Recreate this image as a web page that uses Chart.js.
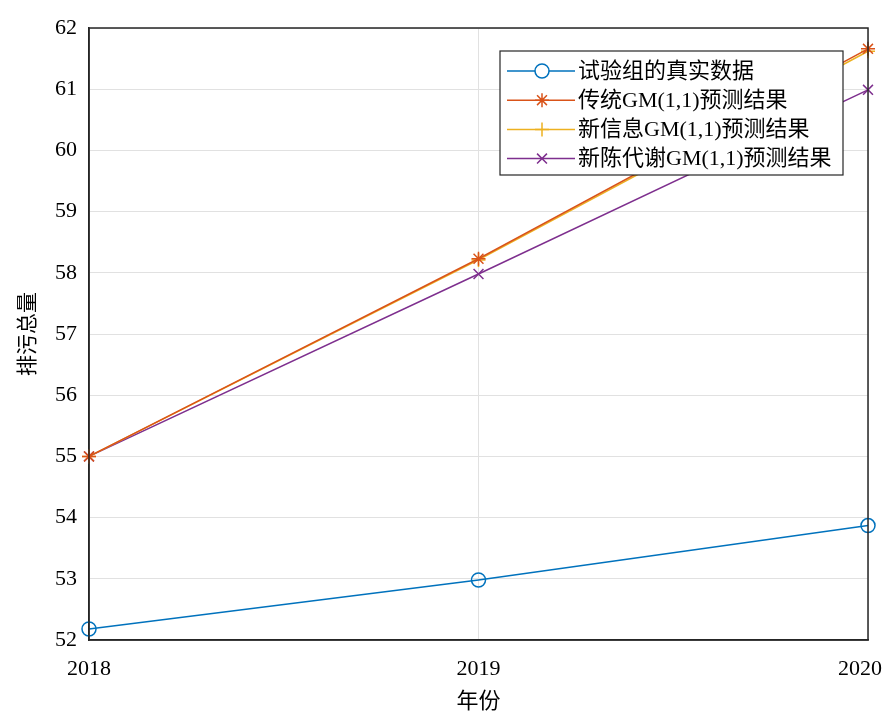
<!DOCTYPE html>
<html>
<head>
<meta charset="utf-8">
<script src="https://cdn.jsdelivr.net/npm/chart.js@4"></script>
<style>
  body { margin: 0; background: #fff; }
  #wrap { width: 886px; height: 715px; }
</style>
</head>
<body>
<div id="wrap"><canvas id="gmChart" width="886" height="715"></canvas></div>
<script>
const years = [2018, 2019, 2020];
const realData = [52.18, 52.98, 53.87];
const gmData = [55.0, 58.23, 61.66];
const newInfoData = [55.0, 58.21, 61.62];
const metabolismData = [55.0, 57.98, 60.99];
const yTicks = [52, 53, 54, 55, 56, 57, 58, 59, 60, 61, 62];

const fontFam = '"Liberation Serif", "Times New Roman", "Noto Sans CJK SC", serif';

function toPoints(vals) {
  return vals.map((v, i) => ({ x: years[i], y: v }));
}

// box around plot, x labels (kept inside the canvas) and legend inside plot area
const boxAndLegend = {
  id: 'boxAndLegend',
  afterDraw(chart) {
    const ctx = chart.ctx;
    const a = chart.chartArea;
    ctx.save();
    ctx.strokeStyle = '#262626';
    ctx.lineWidth = 1.5;
    ctx.strokeRect(a.left, a.top, a.right - a.left, a.bottom - a.top);

    // x tick labels
    const xs = chart.scales.x;
    ctx.font = '22px ' + fontFam;
    ctx.fillStyle = '#000';
    ctx.textBaseline = 'middle';
    ctx.textAlign = 'center';
    years.forEach(yr => {
      const txt = String(yr);
      const w = ctx.measureText(txt).width;
      let px = xs.getPixelForValue(yr);
      px = Math.min(px, chart.width - 4 - w / 2);
      ctx.fillText(txt, px, a.bottom + 29);
    });

    // legend
    const lx = 500, ly = 51, lw = 343, lh = 124;
    ctx.fillStyle = '#fff';
    ctx.fillRect(lx, ly, lw, lh);
    ctx.strokeStyle = '#262626';
    ctx.lineWidth = 1.2;
    ctx.strokeRect(lx, ly, lw, lh);
    ctx.textAlign = 'left';
    chart.data.datasets.forEach((ds, i) => {
      const y = ly + 20 + i * 29.2;
      ctx.strokeStyle = ds.borderColor;
      ctx.lineWidth = 1.5;
      ctx.beginPath();
      ctx.moveTo(lx + 7, y);
      ctx.lineTo(lx + 75, y);
      ctx.stroke();
      Chart.helpers.drawPoint(ctx, {
        pointStyle: ds.pointStyle,
        radius: ds.pointRadius,
        borderWidth: 1.5
      }, lx + 42, y);
      ctx.fillStyle = '#000';
      ctx.fillText(ds.label, lx + 78, y + 1);
    });
    ctx.restore();
  }
};

const ctx = document.getElementById('gmChart').getContext('2d');
new Chart(ctx, {
  type: 'line',
  data: {
    datasets: [
      {
        label: '试验组的真实数据',
        data: toPoints(realData),
        borderColor: '#0072BD',
        backgroundColor: 'rgba(0,0,0,0)',
        pointStyle: 'circle',
        pointRadius: 7,
        borderWidth: 1.5
      },
      {
        label: '传统GM(1,1)预测结果',
        data: toPoints(gmData),
        borderColor: '#D95319',
        backgroundColor: 'rgba(0,0,0,0)',
        pointStyle: 'star',
        pointRadius: 7,
        borderWidth: 1.5
      },
      {
        label: '新信息GM(1,1)预测结果',
        data: toPoints(newInfoData),
        borderColor: '#EDB120',
        backgroundColor: 'rgba(0,0,0,0)',
        pointStyle: 'cross',
        pointRadius: 7,
        borderWidth: 1.5
      },
      {
        label: '新陈代谢GM(1,1)预测结果',
        data: toPoints(metabolismData),
        borderColor: '#7E2F8E',
        backgroundColor: 'rgba(0,0,0,0)',
        pointStyle: 'crossRot',
        pointRadius: 7,
        borderWidth: 1.5
      }
    ]
  },
  options: {
    responsive: false,
    animation: false,
    clip: false,
    layout: { padding: { left: 16, right: 18, top: 28, bottom: 0 } },
    plugins: {
      legend: { display: false },
      tooltip: { enabled: false }
    },
    scales: {
      x: {
        type: 'linear',
        min: 2018,
        max: 2020,
        afterFit(scale) {
          scale.height = 75;
          scale.paddingLeft = 0;
          scale.paddingRight = 0;
        },
        afterBuildTicks(scale) { scale.ticks = years.map(v => ({ value: v })); },
        ticks: {
          display: false,
          maxRotation: 0
        },
        grid: { color: '#e1e1e1', drawTicks: false, lineWidth: 1 },
        border: { color: '#262626', width: 1.5 },
        title: {
          display: true,
          text: '年份',
          color: '#000',
          font: { family: fontFam, size: 22 },
          padding: { top: 3, bottom: 0 }
        }
      },
      y: {
        min: 52,
        max: 62,
        afterFit(scale) {
          scale.width = 73;
          scale.paddingTop = 0;
          scale.paddingBottom = 0;
        },
        afterBuildTicks(scale) { scale.ticks = yTicks.map(v => ({ value: v })); },
        ticks: {
          color: '#000',
          padding: 12,
          font: { family: fontFam, size: 22 }
        },
        grid: { color: '#e1e1e1', drawTicks: false, lineWidth: 1 },
        border: { color: '#262626', width: 1.5 },
        title: {
          display: true,
          text: '排污总量',
          color: '#000',
          font: { family: fontFam, size: 21 },
          padding: 0
        }
      }
    }
  },
  plugins: [boxAndLegend]
});
</script>
</body>
</html>
